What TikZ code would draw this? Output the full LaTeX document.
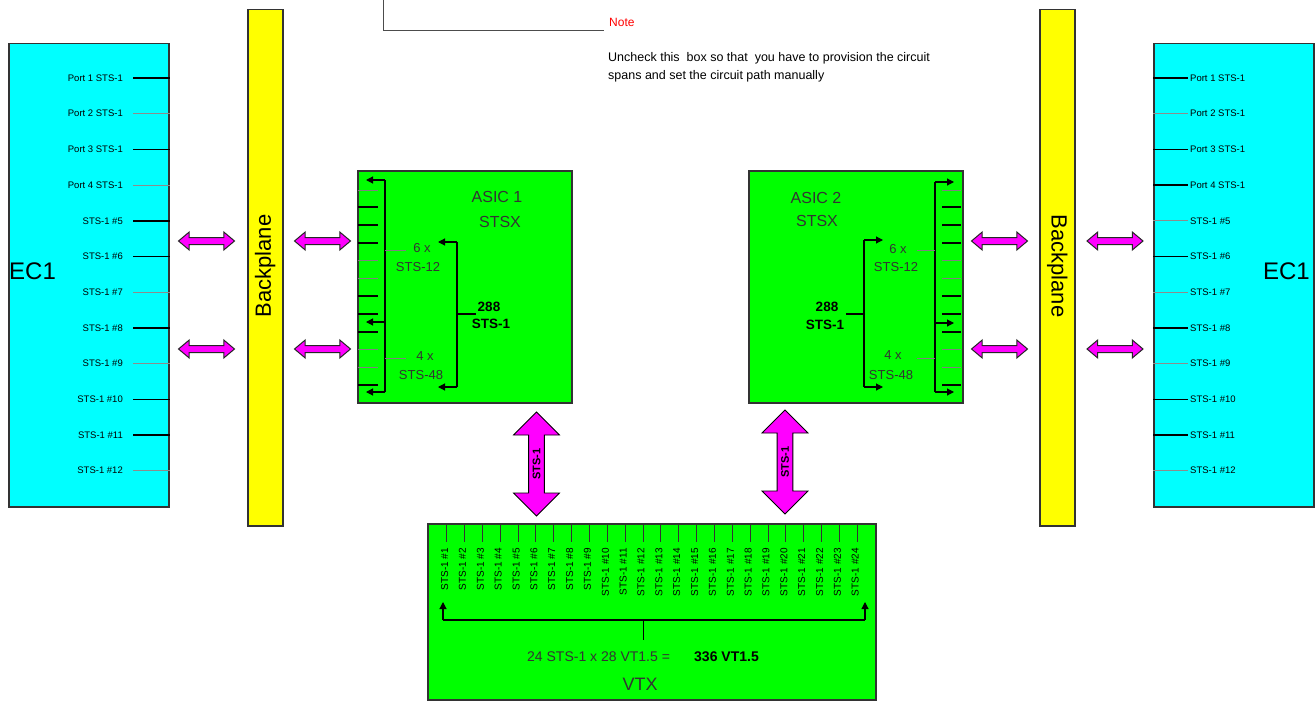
\documentclass[tikz,border=0pt]{standalone}
\usepackage{fontspec}
\setmainfont{Liberation Sans}
\usetikzlibrary{shapes.arrows,arrows.meta}
\definecolor{ecc}{RGB}{0,255,255}
\definecolor{bpc}{RGB}{255,255,0}
\definecolor{gc}{RGB}{0,255,0}
\definecolor{mc}{RGB}{255,0,255}
\definecolor{notered}{RGB}{255,0,0}
\newcommand{\myfs}[1]{\fontsize{#1}{#1}\selectfont}
\begin{document}
\begin{tikzpicture}[x=1pt,y=-1pt,
  box/.style={draw=black!80, line width=1.5pt, inner sep=0pt, anchor=north west},
  ecbox/.style={box, fill=ecc},
  bpbox/.style={box, fill=bpc},
  gbox/.style={box, fill=gc},
  portlbl/.style={inner sep=0pt, font=\myfs{9.5}},
  pthick/.style={line width=1.4pt, black},
  pthin/.style={line width=0.7pt, black!45},
  harrow/.style={double arrow, draw=black!85, line width=1pt, fill=mc, minimum height=56pt, minimum width=17pt, double arrow head extend=5.5pt, double arrow tip angle=80, inner sep=0pt},
  varrow/.style={double arrow, draw=black, line width=0.8pt, fill=mc, rotate=90, minimum height=104pt, minimum width=46pt, double arrow head extend=14pt, inner sep=3pt, font=\bfseries\myfs{11}},
  bus/.style={line width=1.1pt, black},
  busarr/.style={bus, -{Triangle[length=7pt,width=7pt]}},
  tickT/.style={line width=1.4pt, black},
  tickt/.style={line width=0.8pt, black!50},
  asictxt/.style={font=\myfs{16}, text=black!80, inner sep=0pt},
  smtxt/.style={font=\myfs{13}, text=black!80, inner sep=0pt},
  bdtxt/.style={font=\bfseries\myfs{13.5}, inner sep=0pt},
  vlbl/.style={font=\myfs{10}, inner sep=0pt, rotate=90, anchor=east},
]
\useasboundingbox (0,0) rectangle (1315,701);
\fill[white] (0,0) rectangle (1315,701);

% ---------- note callout ----------
\coordinate (nt0) at (383,0);
\coordinate (nt1) at (383,31);
\coordinate (nt2) at (604,31);
\draw[line width=1pt, black!70] (nt0) -- (nt1) -- (nt2);
\node[anchor=west, inner sep=0pt, font=\myfs{12}, text=notered] (note) at (609,22) {Note};
\node[anchor=north west, align=left, inner sep=0pt, font=\fontsize{12.5}{18}\selectfont] (notetext) at (608,52)
  {Uncheck this\ \ box so that\ \ you have to provision the circuit\\spans and set the circuit path manually};

% ---------- EC1 boxes ----------
\node[ecbox, minimum width=160pt, minimum height=463pt] (ecL) at (8,43) {};
\node[ecbox, minimum width=160pt, minimum height=463pt] (ecR) at (1153,43) {};
\node[anchor=west, inner sep=0pt, font=\myfs{24}] (ecLt) at (9,271) {EC1};
\node[anchor=east, inner sep=0pt, font=\myfs{24}] (ecRt) at (1310,271) {EC1};

\foreach \i/\t/\w in {1/Port 1 STS-1/pthick, 2/Port 2 STS-1/pthin, 3/Port 3 STS-1/pthick, 4/Port 4 STS-1/pthin,
  5/STS-1 \#5/pthick, 6/STS-1 \#6/pthick, 7/STS-1 \#7/pthin, 8/STS-1 \#8/pthick, 9/STS-1 \#9/pthin,
  10/STS-1 \#10/pthick, 11/STS-1 \#11/pthick, 12/STS-1 \#12/pthin}{
  \pgfmathsetmacro{\yy}{78+35.7*(\i-1)}
  \node[portlbl, anchor=east] (pl\i) at (123,\yy) {\t};
  \draw[style=\w] ([xshift=10pt]pl\i.east) -- (ecL.east |- pl\i.east);
}
\foreach \i/\t/\w in {1/Port 1 STS-1/pthick, 2/Port 2 STS-1/pthin, 3/Port 3 STS-1/pthick, 4/Port 4 STS-1/pthick,
  5/STS-1 \#5/pthin, 6/STS-1 \#6/pthick, 7/STS-1 \#7/pthin, 8/STS-1 \#8/pthick, 9/STS-1 \#9/pthin,
  10/STS-1 \#10/pthick, 11/STS-1 \#11/pthick, 12/STS-1 \#12/pthin}{
  \pgfmathsetmacro{\yy}{78+35.7*(\i-1)}
  \node[portlbl, anchor=west] (pr\i) at (1190,\yy) {\t};
  \draw[style=\w] (ecR.west |- pr\i.west) -- ([xshift=-2pt]pr\i.west);
}

% ---------- Backplanes ----------
\node[bpbox, minimum width=35pt, minimum height=516pt] (bpL) at (247,9) {};
\node[bpbox, minimum width=35pt, minimum height=516pt] (bpR) at (1039,9) {};
\node[rotate=90, inner sep=0pt, font=\myfs{22}] (bpLt) at (bpL.center |- 0,266) {Backplane};
\node[rotate=-90, inner sep=0pt, font=\myfs{22}] (bpRt) at (bpR.center |- 0,266) {Backplane};

% ---------- horizontal magenta arrows ----------
\node[harrow] (ha1) at (206.5,241) {\rule{0pt}{6pt}};
\node[harrow] (ha2) at (322.5,241) {\rule{0pt}{6pt}};
\node[harrow] (ha3) at (206.5,349) {\rule{0pt}{6pt}};
\node[harrow] (ha4) at (322.5,349) {\rule{0pt}{6pt}};
\node[harrow] (ha5) at (999.5,241) {\rule{0pt}{6pt}};
\node[harrow] (ha6) at (1115,241) {\rule{0pt}{6pt}};
\node[harrow] (ha7) at (999.5,349) {\rule{0pt}{6pt}};
\node[harrow] (ha8) at (1115,349) {\rule{0pt}{6pt}};

% ---------- ASIC 1 ----------
\node[gbox, minimum width=214pt, minimum height=232pt] (asic1) at (357,170) {};
\foreach \yy/\s in {190/tickt,207/tickT,225/tickT,243/tickT,260/tickt,278/tickt,296/tickT,314/tickT,332/tickT,349/tickt,367/tickt,385/tickT}
  \draw[style=\s] (358,\yy) -- (378,\yy);
\draw[bus] (385,180) -- (385,392);
\draw[busarr] (385,180) -- (366,180);
\draw[busarr] (385,322) -- (366,322);
\draw[busarr] (385,392) -- (366,392);
\draw[tickt] (385,250) -- (406,250);
\draw[tickt] (385,358) -- (406,358);
\draw[bus] (457,242) -- (457,387);
\draw[busarr] (457,242) -- (438,242);
\draw[busarr] (457,387) -- (438,387);
\draw[bus] (457,314) -- (476,314);
\node[asictxt] (a1t1) at (497,197) {ASIC 1};
\node[asictxt] (a1t2) at (500,222) {STSX};
\node[smtxt] (a1a) at (422,248) {6 x};
\node[smtxt] (a1b) at (418,267) {STS-12};
\node[smtxt] (a1c) at (425,356) {4 x};
\node[smtxt] (a1d) at (421,375) {STS-48};
\node[bdtxt] (a1e) at (489,307) {288};
\node[bdtxt] (a1f) at (491,324) {STS-1};

% ---------- ASIC 2 ----------
\node[gbox, minimum width=214pt, minimum height=232pt] (asic2) at (748,170) {};
\foreach \yy/\s in {190/tickt,207/tickT,225/tickT,243/tickT,260/tickt,278/tickt,296/tickT,314/tickT,332/tickT,349/tickt,367/tickt,385/tickT}
  \draw[style=\s] (942,\yy) -- (961,\yy);
\draw[bus] (935,182) -- (935,392);
\draw[busarr] (935,182) -- (954,182);
\draw[busarr] (935,323) -- (954,323);
\draw[busarr] (935,392) -- (954,392);
\draw[tickt] (917,250) -- (935,250);
\draw[tickt] (917,358) -- (935,358);
\draw[bus] (864,240) -- (864,387);
\draw[busarr] (864,240) -- (883,240);
\draw[busarr] (864,387) -- (883,387);
\draw[bus] (846,314) -- (864,314);
\node[asictxt] (a2t1) at (816,198) {ASIC 2};
\node[asictxt] (a2t2) at (817,221) {STSX};
\node[smtxt] (a2a) at (898,249) {6 x};
\node[smtxt] (a2b) at (896,267) {STS-12};
\node[smtxt] (a2c) at (893,355) {4 x};
\node[smtxt] (a2d) at (891,375) {STS-48};
\node[bdtxt] (a2e) at (827,307) {288};
\node[bdtxt] (a2f) at (825,325) {STS-1};

% ---------- VTX ----------
\node[gbox, minimum width=448pt, minimum height=176pt] (vtx) at (427,523) {};
\foreach \i in {1,...,24}{
  \pgfmathsetmacro{\xx}{446.7+17.85*(\i-1)}
  \draw[line width=1pt, black!80] (\xx,524) -- (\xx,542);
  \node[vlbl] (vl\i) at (\xx-2,548) {STS-1 \#\i};
}
\coordinate (vb1) at (443,620);
\coordinate (vb2) at (865,620);
\coordinate (vbm) at (643,620);
\draw[bus] (vb1) -- (vb2);
\draw[busarr] (vb1) -- (443,602);
\draw[busarr] (vb2) -- (865,602);
\node[inner sep=0pt, font=\myfs{14}, text=black!80, anchor=west] (vtxeq) at (527,657) {24 STS-1 x 28 VT1.5 =};
\node[inner sep=0pt, font=\bfseries\myfs{14}, anchor=west] (vtxres) at (694,657) {336 VT1.5};
\draw[bus, line width=0.8pt] (vbm) -- (643,640);
\node[inner sep=0pt, font=\myfs{18}, text=black!80] (vtxt) at (640,684) {VTX};

% ---------- vertical STS-1 arrows ----------
\node[varrow] (va1) at (536.5,464) {STS-1};
\node[varrow] (va2) at (785,462) {STS-1};
\end{tikzpicture}
\end{document}
